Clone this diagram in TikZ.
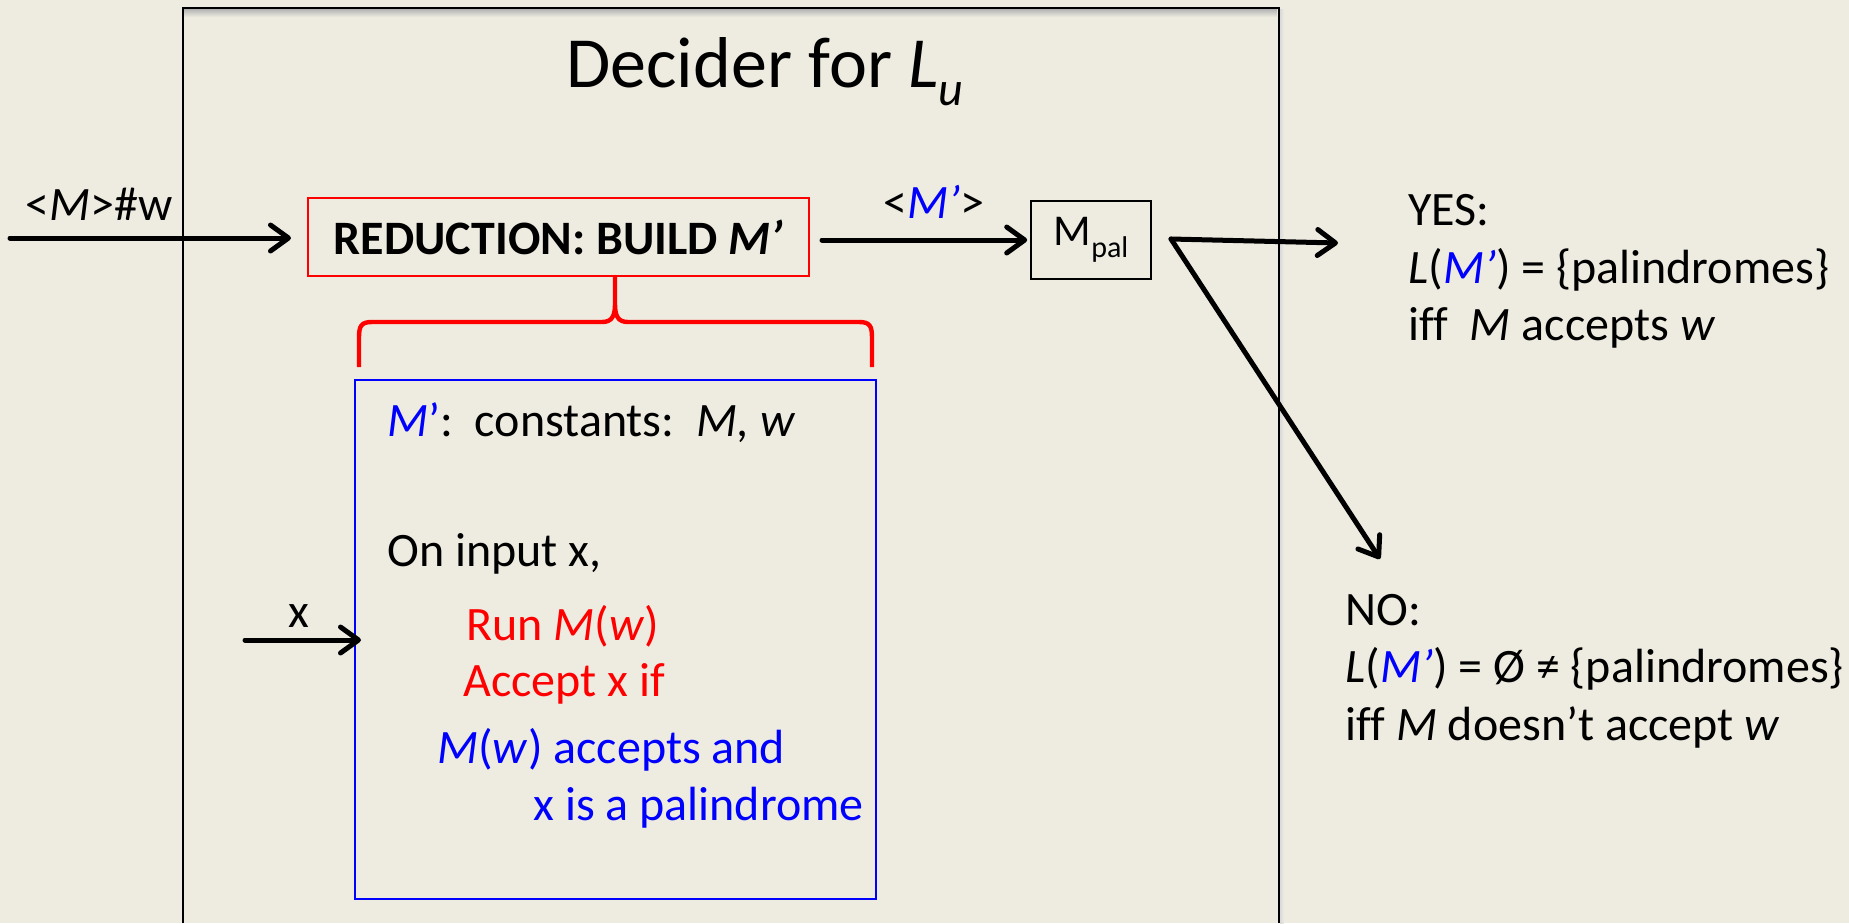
\documentclass[tikz,border=0pt]{standalone}
\usepackage{fontspec}
\setmainfont{Carlito}[Ligatures=NoCommon]
\usetikzlibrary{arrows.meta}
\definecolor{bg}{RGB}{238,236,225}
\definecolor{myblue}{RGB}{0,0,255}
\definecolor{myred}{RGB}{255,0,0}
\newcommand{\bodyfont}{\fontsize{24}{28}\selectfont}
\newcommand{\bMp}{\textcolor{myblue}{\textit{M’}}}
\begin{document}
\begin{tikzpicture}[x=0.5pt,y=-0.5pt,
  txt/.style={inner sep=0pt, anchor=base west, font=\bodyfont},
  arr/.style={line width=2.5pt, line cap=round, -{Straight Barb[length=9pt,width=13pt,round]}},
  redbox/.style={draw=myred, line width=1pt, inner sep=0pt, minimum width=250.5pt, minimum height=39pt, font=\bodyfont\bfseries},
  blackbox/.style={draw=black, line width=0.8pt, inner sep=0pt, minimum width=60pt, minimum height=39pt},
  bluebox/.style={draw=myblue, line width=1pt, inner sep=0pt, minimum width=260.5pt, minimum height=259.5pt},
  bracestyle/.style={draw=myred, line width=2.2pt, line join=round}]
\useasboundingbox[fill=bg] (0,0) rectangle (1849,923);
% outer decider frame
\shade[top color=black!30, bottom color=bg] (184,9) rectangle (1277,17);
\shade[left color=black!15, right color=bg] (1280,9) rectangle (1284,923);
\draw[line width=1pt] (183,923) -- (183,8) -- (1279,8) -- (1279,923);
% title
\node[inner sep=0pt, anchor=base west, font=\fontsize{36}{40}\selectfont] (title) at (566,87)
  {Decider for \textit{L}\raisebox{-9pt}{\fontsize{24}{24}\selectfont\itshape u}};
% boxes
\node[redbox] (red) at (558.5,237) {REDUCTION: BUILD \textit{M’}};
\node[blackbox] (mpal) at (1091,240) {\fontsize{22}{24}\selectfont M\raisebox{-6pt}{\fontsize{15}{16}\selectfont pal}};
\node[bluebox] (blue) at (615.5,639.5) {};
% brace
\draw[bracestyle] (359,367) -- (359,338) .. controls (359,326) and (361,322) .. (372,322)
  -- (602,322) .. controls (612,322) and (615,316) .. (615,304) -- (615,277)
  -- (615,304) .. controls (615,316) and (618,322) .. (628,322)
  -- (859,322) .. controls (870,322) and (872,326) .. (872,338) -- (872,367);
% input arrow
\coordinate (inStart) at (10,238);
\draw[arr, shorten >=8pt] (inStart) -- (red.west |- inStart);
\node[txt] (inlab) at (25,220) {<\textit{M}>\#w};
% red -> mpal
\draw[arr, shorten <=6pt, shorten >=1.5pt] (red.east |- mpal.west) -- (mpal.west);
\node[txt] (mplab) at (883,218) {<\bMp>};
% outputs
\coordinate (split) at (1171,239);
\coordinate (yesend) at (1338,243);
\coordinate (noend) at (1380,559);
\draw[arr] (split) -- (yesend);
\draw[arr] (split) -- (noend);
% YES text
\node[txt] (yes1) at (1408,225) {YES:};
\node[txt] (yes2) at (1408,283) {\textit{L}(\bMp) = \{palindromes\}};
\node[txt] (yes3) at (1408,340) {iff~~\textit{M} accepts \textit{w}};
% NO text
\node[txt] (no1) at (1345,625) {NO:};
\node[txt] (no2) at (1345,682) {\textit{L}(\bMp) = Ø ≠ \{palindromes\}};
\node[txt] (no3) at (1345,740) {iff \textit{M} doesn’t accept \textit{w}};
% x arrow
\coordinate (xStart) at (245,640);
\draw[arr] (xStart) -- ([xshift=3.5pt]blue.west |- xStart);
\node[inner sep=0pt, anchor=base, font=\bodyfont] (xlab) at (299,627) {x};
% blue box text
\node[txt] (b1) at (387,436) {\textcolor{myblue}{\textit{M}’}:~~constants:~~\textit{M, w}};
\node[txt] (b2) at (387,566) {On input x,};
\node[txt, text=myred] (b3) at (466,640) {Run \textit{M}(\textit{w})};
\node[txt, text=myred] (b4) at (463,696) {Accept x if};
\node[txt, text=myblue] (b5) at (437,763) {\textit{M}(\textit{w}) accepts and};
\node[txt, text=myblue] (b6) at (533,820) {x is a palindrome};
\end{tikzpicture}
\end{document}
